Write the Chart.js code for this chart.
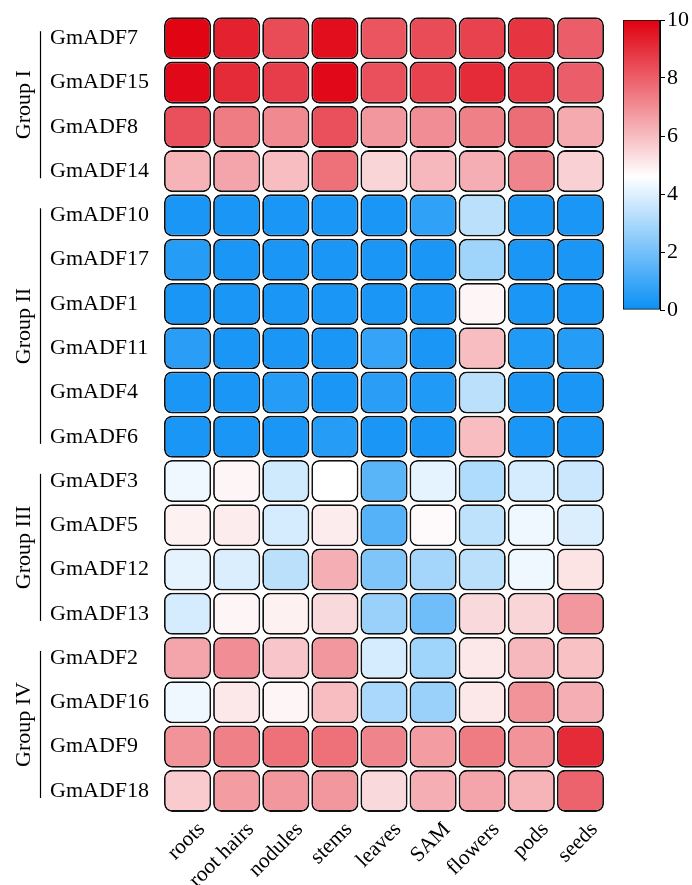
<!DOCTYPE html>
<html><head><meta charset="utf-8">
<script src="https://cdn.jsdelivr.net/npm/chart.js@4"></script>
<style>
html,body{margin:0;padding:0;background:#fff;}
#wrap{position:relative;width:692px;height:885px;}
#main{position:absolute;left:0;top:0;}
#cb{position:absolute;left:600px;top:0;}
</style></head><body>
<div id="wrap">
<canvas id="main" width="692" height="885"></canvas>
<canvas id="cb" width="92" height="330"></canvas>
</div>
<script>
const tissues = ['roots','root hairs','nodules','stems','leaves','SAM','flowers','pods','seeds'];
const genes = ['GmADF7','GmADF15','GmADF8','GmADF14','GmADF10','GmADF17','GmADF1','GmADF11','GmADF4','GmADF6','GmADF3','GmADF5','GmADF12','GmADF13','GmADF2','GmADF16','GmADF9','GmADF18'];
const groupNames = ['Group I','Group II','Group III','Group IV'];
const groupFirstRow = [0,4,10,14];
const groupLastRow = [3,9,13,17];
const colorbarTicks = [0,2,4,6,8,10];

const GmADF7  = [9.9,9.3,8.4,9.7,8.2,8.4,8.6,8.9,8.0];
const GmADF15 = [9.8,9.1,8.7,9.8,8.3,8.6,9.1,8.8,8.0];
const GmADF8  = [8.3,7.4,7.1,8.3,6.8,7.0,7.3,7.7,6.4];
const GmADF14 = [6.2,6.5,6.0,7.6,5.5,6.1,6.3,7.2,5.6];
const GmADF10 = [0.3,0.3,0.3,0.3,0.3,0.7,3.3,0.3,0.3];
const GmADF17 = [0.5,0.3,0.3,0.3,0.3,0.3,2.8,0.3,0.3];
const GmADF1  = [0.3,0.3,0.3,0.3,0.3,0.3,4.8,0.3,0.3];
const GmADF11 = [0.6,0.3,0.3,0.3,0.8,0.3,6.0,0.4,0.5];
const GmADF4  = [0.3,0.3,0.5,0.3,0.6,0.4,3.3,0.3,0.3];
const GmADF6  = [0.3,0.3,0.3,0.5,0.3,0.3,6.0,0.3,0.3];
const GmADF3  = [4.3,4.8,3.7,4.6,1.5,4.1,3.1,3.8,3.6];
const GmADF5  = [4.9,5.0,3.8,5.0,1.4,4.7,3.4,4.3,3.9];
const GmADF12 = [4.1,3.9,3.3,6.3,2.2,2.9,3.3,4.3,5.2];
const GmADF13 = [3.8,4.8,4.9,5.4,2.7,1.9,5.4,5.5,6.8];
const GmADF2  = [6.5,7.0,5.8,6.8,3.8,2.8,5.1,6.1,5.9];
const GmADF16 = [4.3,5.1,4.8,6.0,3.0,2.7,5.1,6.9,6.3];
const GmADF9  = [6.9,7.3,7.6,7.6,7.2,6.7,7.4,6.9,9.1];
const GmADF18 = [5.7,6.7,6.8,6.8,5.4,6.3,6.5,6.2,7.9];

const rows = [GmADF7,GmADF15,GmADF8,GmADF14,GmADF10,GmADF17,GmADF1,GmADF11,GmADF4,GmADF6,GmADF3,GmADF5,GmADF12,GmADF13,GmADF2,GmADF16,GmADF9,GmADF18];

// colormap
const cmin = 0, cmax = 10, cmid = 4.6;
const cLow = [10,144,245], cMid = [255,255,255], cHigh = [224,0,16];
function colorFor(v){
  let a,b,t;
  if (v <= cmid){ a=cLow; b=cMid; t=(v-cmin)/(cmid-cmin); }
  else { a=cMid; b=cHigh; t=(v-cmid)/(cmax-cmid); }
  t = Math.max(0,Math.min(1,t));
  const c = a.map((x,i)=>Math.round(x+(b[i]-x)*t));
  return `rgb(${c[0]},${c[1]},${c[2]})`;
}

const SERIF = '"Liberation Serif","Times New Roman",serif';
Chart.defaults.font.family = SERIF;
Chart.defaults.color = '#000';

const datasets = genes.map((g,ri)=>({
  label: g,
  data: tissues.map(()=>[ri+0.025, ri+0.975]),
  backgroundColor: tissues.map((t,ci)=>colorFor(rows[ri][ci])),
  borderColor: '#111',
  borderWidth: 1.8,
  borderRadius: 8,
  borderSkipped: false,
  barPercentage: 0.96,
  categoryPercentage: 1.0,
}));

const groupPlugin = {
  id: 'groups',
  afterDraw(chart){
    const ctx = chart.ctx, y = chart.scales.y;
    ctx.save();
    ctx.strokeStyle = '#000'; ctx.lineWidth = 1.2;
    ctx.fillStyle = '#000';
    ctx.font = '22px ' + SERIF;
    groupNames.forEach((name,i)=>{
      const top = y.getPixelForValue(groupFirstRow[i]);
      const bot = y.getPixelForValue(groupLastRow[i]+1);
      ctx.beginPath();
      ctx.moveTo(40.5, top+15); ctx.lineTo(40.5, bot-15);
      ctx.stroke();
      ctx.save();
      ctx.translate(30, (top+bot)/2);
      ctx.rotate(-Math.PI/2);
      ctx.textAlign='center'; ctx.textBaseline='alphabetic';
      ctx.fillText(name,0,0);
      ctx.restore();
    });
    ctx.restore();
  }
};

new Chart(document.getElementById('main'), {
  type: 'bar',
  data: { labels: tissues, datasets },
  options: {
    responsive: false, animation: false,
    layout: { padding: { left: 50, top: 12, right: 87, bottom: 0 } },
    plugins: { legend: { display:false }, tooltip: { enabled:false } },
    scales: {
      x: {
        stacked: true,
        grid: { display:false, drawTicks:false },
        border: { display:false },
        ticks: { font: { size: 21.5 }, maxRotation: 45, minRotation: 45, padding: 4, labelOffset: 14 },
        afterFit(s){ s.height = 72; }
      },
      y: {
        stacked: false,
        min: 0, max: 18, reverse: true,
        grid: { display:false, drawTicks:false },
        border: { display:false },
        afterBuildTicks(s){ s.ticks = genes.map((g,i)=>({value:i+0.5})); },
        ticks: { autoSkip:false, font:{ size: 22 }, crossAlign:'far',
          callback(v, i){ return genes[i]; } },
        afterFit(s){ s.width = 113; }
      }
    }
  },
  plugins: [groupPlugin]
});

new Chart(document.getElementById('cb'), {
  type: 'bar',
  data: { labels: ['cb'], datasets: [{
    data: [[cmin, cmax]],
    backgroundColor(ctx){
      const ca = ctx.chart.chartArea;
      if (!ca) return '#fff';
      const g = ctx.chart.ctx.createLinearGradient(0, ca.bottom, 0, ca.top);
      g.addColorStop(0, colorFor(cmin));
      g.addColorStop((cmid-cmin)/(cmax-cmin), colorFor(cmid));
      g.addColorStop(1, colorFor(cmax));
      return g;
    },
    borderColor: '#111', borderWidth: 1.2, borderSkipped: false,
    barPercentage: 1, categoryPercentage: 1
  }]},
  options: {
    responsive:false, animation:false,
    layout: { padding: { left: 23, top: 20, right: 0, bottom: 20 } },
    plugins: { legend:{display:false}, tooltip:{enabled:false} },
    scales: {
      x: { display:false },
      y: {
        position:'right', min:cmin, max:cmax,
        afterBuildTicks(s){ s.ticks = colorbarTicks.map(v=>({value:v})); },
        grid: { drawOnChartArea:false, tickLength:5, color:'#000' },
        border: { display:true, color:'#000' },
        ticks: { font:{size:22}, padding:2 },
        afterFit(s){ s.width = 32; }
      }
    }
  }
});
</script>
</body></html>
